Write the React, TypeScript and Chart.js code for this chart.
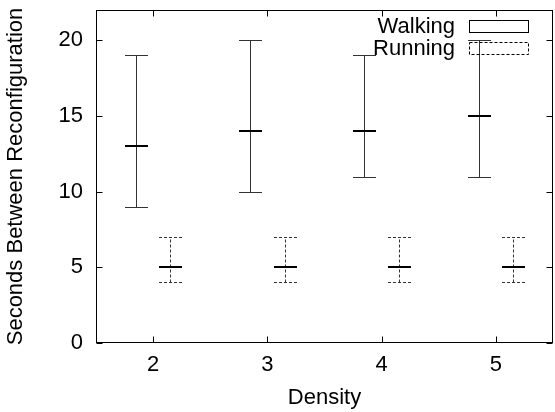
import React, { useEffect, useRef } from 'react';
import { Chart, registerables } from 'chart.js';

Chart.register(...registerables);

const densities = [2, 3, 4, 5];
const walkingMin = [9, 10, 11, 11];
const walkingMedian = [13, 14, 14, 15];
const walkingMax = [19, 20, 19, 20];
const runningMin = [4, 4, 4, 4];
const runningMedian = [5, 5, 5, 5];
const runningMax = [7, 7, 7, 7];
const xTickValues = [2, 3, 4, 5];
const yTickValues = [0, 5, 10, 15, 20];
const seriesNames = ['Walking', 'Running'];

const FONT = '"Liberation Sans", Arial, Helvetica, sans-serif';
const FONT_SIZE = 22;

const zeroPad = (s: any) => {
  s.paddingTop = 0;
  s.paddingBottom = 0;
  s.paddingLeft = 0;
  s.paddingRight = 0;
};

const boxPlugin = {
  id: 'boxPlugin',
  afterDatasetsDraw(chart: any) {
    const ctx = chart.ctx;
    const xs = chart.scales.x;
    const ys = chart.scales.y;
    const ca = chart.chartArea;
    ctx.save();
    chart.data.datasets.forEach((ds: any) => {
      const half = 11.5;
      densities.forEach((d: number, i: number) => {
        const cx = Math.round(xs.getPixelForValue(d + ds.offsetX)) + 0.5;
        const yMin = Math.round(ys.getPixelForValue(ds.mins[i])) + 0.5;
        const yMax = Math.round(ys.getPixelForValue(ds.maxs[i])) + 0.5;
        const yMed = Math.round(ys.getPixelForValue(ds.medians[i]));
        ctx.strokeStyle = '#333';
        ctx.lineWidth = 1;
        ctx.setLineDash(ds.dashed ? [3, 2] : []);
        ctx.beginPath();
        ctx.moveTo(cx, yMin);
        ctx.lineTo(cx, yMax);
        ctx.moveTo(cx - half, yMin);
        ctx.lineTo(cx + half, yMin);
        ctx.moveTo(cx - half, yMax);
        ctx.lineTo(cx + half, yMax);
        ctx.stroke();
        ctx.setLineDash([]);
        ctx.strokeStyle = '#000';
        ctx.lineWidth = 2;
        ctx.beginPath();
        ctx.moveTo(cx - half, yMed);
        ctx.lineTo(cx + half, yMed);
        ctx.stroke();
      });
    });

    // frame
    ctx.setLineDash([]);
    ctx.strokeStyle = '#000';
    ctx.lineWidth = 1;
    const l = Math.round(ca.left) + 0.5;
    const r = Math.round(ca.right) - 0.5;
    const t = Math.round(ca.top) + 0.5;
    const b = Math.round(ca.bottom) - 0.5;
    ctx.strokeRect(l, t, r - l, b - t);

    // inward ticks on all four sides
    const tl = 6;
    ctx.beginPath();
    xTickValues.forEach((v) => {
      const px = Math.round(xs.getPixelForValue(v)) + 0.5;
      ctx.moveTo(px, b);
      ctx.lineTo(px, b - tl);
      ctx.moveTo(px, t);
      ctx.lineTo(px, t + tl);
    });
    yTickValues.forEach((v) => {
      const py = Math.round(ys.getPixelForValue(v)) + 0.5;
      ctx.moveTo(l, py);
      ctx.lineTo(l + tl, py);
      ctx.moveTo(r, py);
      ctx.lineTo(r - tl, py);
    });
    ctx.stroke();

    // legend (text then sample box)
    ctx.font = `${FONT_SIZE}px ${FONT}`;
    ctx.fillStyle = '#000';
    ctx.textAlign = 'right';
    ctx.textBaseline = 'middle';
    chart.data.datasets.forEach((ds: any, i: number) => {
      const cy = ca.top + 16 + i * 22;
      ctx.fillText(seriesNames[i], ca.right - 98, cy + 1);
      ctx.setLineDash(ds.dashed ? [3, 2] : []);
      ctx.strokeStyle = '#000';
      ctx.lineWidth = 1;
      const bx = Math.round(ca.right - 84) + 0.5;
      const by = Math.round(cy - 6) + 0.5;
      ctx.strokeRect(bx, by, 59, 12);
    });
    ctx.restore();
  },
};

export default function App() {
  const ref = useRef<HTMLCanvasElement | null>(null);
  useEffect(() => {
    if (!ref.current) return;
    const chart = new Chart(ref.current, {
      type: 'scatter',
      data: {
        datasets: [
          {
            label: seriesNames[0],
            data: densities.map((d, i) => ({ x: d - 0.15, y: walkingMedian[i] })),
            pointRadius: 0,
            showLine: false,
            mins: walkingMin,
            maxs: walkingMax,
            medians: walkingMedian,
            offsetX: -0.15,
            dashed: false,
          } as any,
          {
            label: seriesNames[1],
            data: densities.map((d, i) => ({ x: d + 0.15, y: runningMedian[i] })),
            pointRadius: 0,
            showLine: false,
            mins: runningMin,
            maxs: runningMax,
            medians: runningMedian,
            offsetX: 0.15,
            dashed: true,
          } as any,
        ],
      },
      options: {
        responsive: false,
        animation: false,
        devicePixelRatio: 1,
        layout: { padding: { top: 10, right: 2, left: 0, bottom: 0 } },
        plugins: { legend: { display: false }, tooltip: { enabled: false } },
        scales: {
          x: {
            type: 'linear',
            min: 1.5,
            max: 5.5,
            afterBuildTicks: (s: any) => {
              s.ticks = xTickValues.map((v) => ({ value: v }));
            },
            afterFit: (s: any) => {
              s.height = 69;
              zeroPad(s);
            },
            grid: { display: false, drawTicks: false },
            border: { display: false },
            ticks: {
              color: '#000',
              padding: 9,
              font: { family: FONT, size: FONT_SIZE },
              callback: (v: any) => String(v),
            },
            title: {
              display: true,
              text: 'Density',
              color: '#000',
              font: { family: FONT, size: FONT_SIZE },
              padding: { top: 0, bottom: 1 },
            },
          },
          y: {
            type: 'linear',
            min: 0,
            max: 22,
            afterBuildTicks: (s: any) => {
              s.ticks = yTickValues.map((v) => ({ value: v }));
            },
            afterFit: (s: any) => {
              s.width = 96;
              zeroPad(s);
            },
            grid: { display: false, drawTicks: false },
            border: { display: false },
            ticks: {
              color: '#000',
              padding: 13,
              font: { family: FONT, size: FONT_SIZE },
              callback: (v: any) => String(v),
            },
            title: {
              display: true,
              text: 'Seconds Between Reconfiguration',
              color: '#000',
              font: { family: FONT, size: FONT_SIZE },
              padding: { top: 3, bottom: 0 },
            },
          },
        },
      } as any,
      plugins: [boxPlugin],
    });
    return () => chart.destroy();
  }, []);
  return (
    <div style={{ position: 'absolute', left: 0, top: 0, width: 555, height: 412, background: '#fff' }}>
      <canvas ref={ref} width={555} height={412} />
    </div>
  );
}
